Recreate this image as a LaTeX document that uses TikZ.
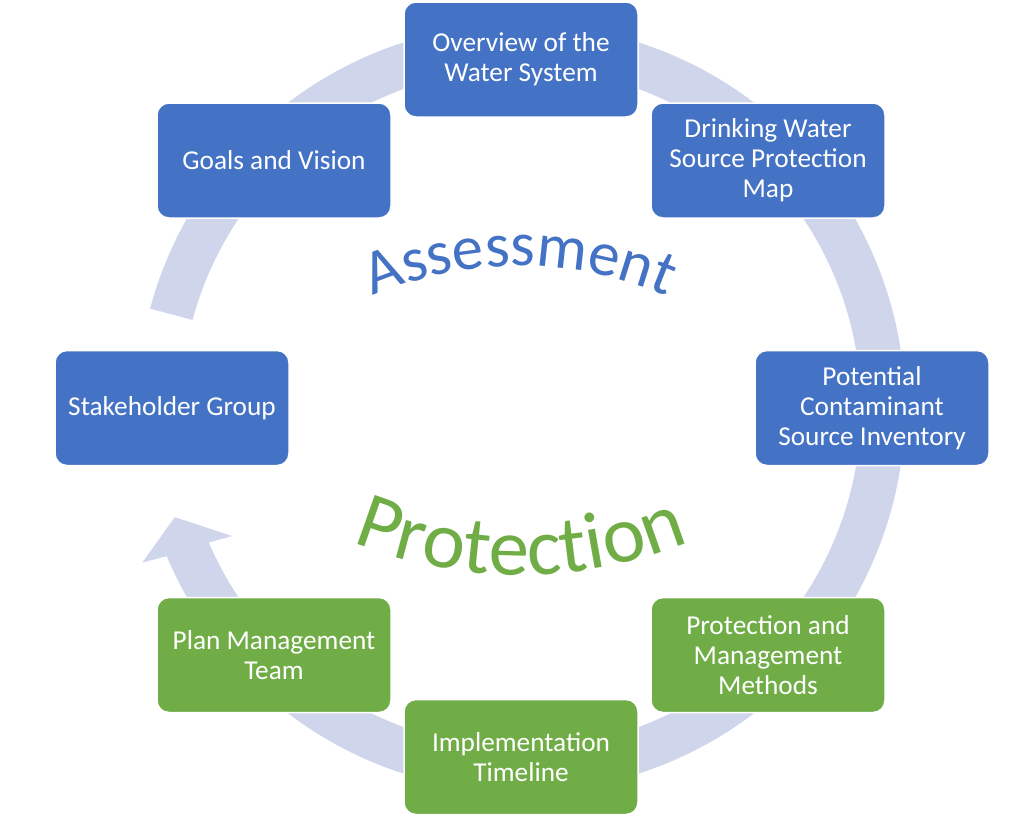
\documentclass[tikz,border=0pt]{standalone}
\usepackage{fontspec}
\setmainfont{Carlito}
\usetikzlibrary{decorations.text}
\definecolor{blueA}{HTML}{4472C4}
\definecolor{greenA}{HTML}{70AD47}
\definecolor{ringC}{HTML}{CFD5EA}
\tikzset{
  box/.style={rounded corners=12pt, minimum width=234pt, minimum height=115pt,
    draw=white, line width=1.5pt, text=white, align=center,
    font=\fontsize{27.3}{30}\selectfont, inner sep=2pt},
  bluebox/.style={box, fill=blueA},
  greenbox/.style={box, fill=greenA},
}
\begin{document}
\begin{tikzpicture}[x=1pt,y=1pt]
\useasboundingbox (0,0) rectangle (1034,-817);
% ring arrow
\begin{scope}[shift={(521,-408)}]
\fill[ringC] (165:384) arc[start angle=165, end angle=-157.3, radius=384]
  -- (202.2:409) -- (197.5:363) -- (203.9:316) -- (203.3:340)
  arc[start angle=-156.7, end angle=165, radius=340] -- cycle;
\end{scope}
% boxes
\node[bluebox] (ov) at (521,-59.5) {Overview of the\\Water System};
\node[bluebox] (dw) at (768,-160.5) {Drinking Water\\Source Protection\\Map};
\node[bluebox] (pc) at (872,-408) {Potential\\Contaminant\\Source Inventory};
\node[greenbox] (pm) at (768,-655) {Protection and\\Management\\Methods};
\node[greenbox] (it) at (521,-757) {Implementation\\Timeline};
\node[greenbox] (pl) at (274,-655) {Plan Management\\Team};
\node[bluebox] (sh) at (172,-408) {Stakeholder Group};
\node[bluebox] (gv) at (274,-160.5) {Goals and Vision};
% arched titles
\path[decorate, decoration={text along path, text color=blueA, text align=center,
  text={|\fontsize{63}{63}\selectfont|Assessment}}]
  (520,-639) ++(115:373) arc[start angle=115, end angle=65, radius=373];
\path[decorate, decoration={text along path, text color=greenA, text align=center,
  text={|\fontsize{81}{81}\selectfont|Protection}}]
  (521,-127) ++(248:448) arc[start angle=248, end angle=292, radius=448];
\end{tikzpicture}
\end{document}
